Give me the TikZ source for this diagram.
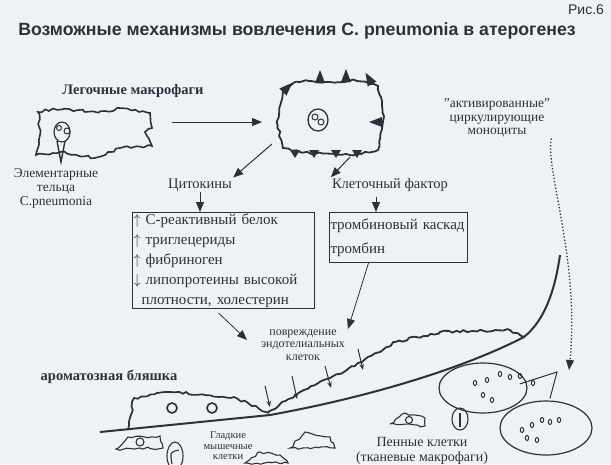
\documentclass[tikz,border=0pt]{standalone}
\usepackage{fontspec}
\setmainfont{Liberation Serif}
\newfontfamily\ttl{Liberation Sans}
\usetikzlibrary{arrows.meta,decorations.pathmorphing,calc,shapes.geometric}
\definecolor{bg}{HTML}{EEF2F6}
\definecolor{ink}{HTML}{2A3238}
\begin{document}
\begin{tikzpicture}[x=1pt,y=-1pt,
  ln/.style={draw=ink,line width=1.6pt},
  arr/.style={ink,line width=1pt,-{Triangle[length=10pt,width=8pt]}},
  sarr/.style={ink,line width=1pt,-{Stealth[length=6pt]}},
  wav/.style={ln,decorate,decoration={random steps,segment length=4pt,amplitude=1.3pt}},
  lbl/.style={text=ink,font=\fontsize{14.5}{15}\selectfont,align=center,inner sep=1pt},
  sm/.style={text=ink,font=\fontsize{12}{12.5}\selectfont,align=center,inner sep=1pt},
  box/.style={draw=ink,line width=1pt,fill=bg,inner sep=3pt}]
\fill[bg] (0,0) rectangle (611,464);
\useasboundingbox (0,0) rectangle (611,464);
\node[text=ink,font=\ttl\fontsize{14}{14}\selectfont] (fig) at (586,10) {Рис.6};
\node[text=ink,font=\ttl\bfseries\fontsize{17.7}{18}\selectfont] (title) at (297,31) {Возможные механизмы вовлечения C. pneumonia в атерогенез};
\node[lbl,font=\bfseries\fontsize{14.5}{15}\selectfont] (lm) at (133,91) {Легочные макрофаги};
% left cell
\draw[wav] (38,112) .. controls (70,104) and (95,118) .. (120,108) -- (150,113) -- (152,128) -- (145,132) -- (152,146) -- (120,148) -- (95,158) -- (60,152) -- (36,155) -- (40,135) -- cycle;
\draw[ln,line width=1.2pt] (62,132) circle (8pt and 10pt);
\draw[ln,line width=1pt] (59,128) circle (2.5pt) (67,131) circle (3pt);
\coordinate (ebtip) at (61,162);
\draw[ln,line width=1.4pt] (57,141) -- (ebtip) -- (65,141);
\node[lbl,font=\fontsize{13.5}{14}\selectfont] (eb) at (56,188) {Элементарные\\тельца\\C.pneumonia};
% activated macrophage
\draw[wav,line width=1.8pt] (283,90) .. controls (300,80) .. (330,82) .. controls (360,80) .. (378,86) .. controls (385,110) .. (378,150) .. controls (350,156) .. (300,152) -- (283,148) .. controls (276,120) .. cycle;
\foreach \x/\y/\a in {283/92/135,320/83/90,346/82/90,372/84/60,382/122/0}
  \fill[ink] ($(\x,\y)+(\a-90:5)$) -- ($(\x,\y)+(\a:-13)$) -- ($(\x,\y)+(\a+90:5)$) -- cycle;
\foreach \x in {290,309,331,352} \fill[ink] (\x,150) -- ++(5,8) -- ++(5,-8) -- cycle;
\draw[ln,line width=1.3pt] (318,120) circle (10pt and 11pt);
\draw[ln,line width=1pt] (315,117) circle (3pt) (321,122) circle (3pt);
\coordinate (a1) at (172,122); \coordinate (a2) at (262,122);
\draw[arr] (a1) -- (a2);
\node[lbl,font=\fontsize{13.5}{13.5}\selectfont] (mono) at (497,118) {"активированные"\\циркулирующие\\моноциты};
\node[lbl] (cyt) at (200,185) {Цитокины};
\node[lbl] (cf) at (390,185) {Клеточный фактор};
\coordinate (am1) at (272,144); \coordinate (am2) at (350,157);
\draw[arr] (am1) -- (cyt.north east);
\draw[arr] (am2) -- (cf.north west);
% boxes
\node[box,anchor=north west,text width=180pt,lbl,font=\fontsize{15}{20}\selectfont,align=left,minimum height=88pt] (b1) at (132,212) {%
$\uparrow$ С-реактивный белок\\$\uparrow$ триглецериды\\$\uparrow$ фибриноген\\$\downarrow$ липопротеины высокой\\\hspace*{8pt}плотности, холестерин};
\node[box,anchor=north west,text width=136pt,lbl,font=\fontsize{15}{24}\selectfont,align=left,minimum height=50pt] (b2) at (329,212) {тромбиновый каскад\\тромбин};
\coordinate (cfs) at (376,197);
\draw[arr,line width=0.8pt] (cyt.south) -- (cyt.south|-b1.north);
\draw[arr,line width=0.8pt] (cfs) -- (cfs|-b2.north);
% vessel
\coordinate (v0) at (100,432); \coordinate (v1) at (524,337); \coordinate (vtop) at (560,255);
\draw[ln,line width=2pt] (v0) -- (270,415) .. controls (380,395) and (470,365) .. (v1) .. controls (545,320) and (555,290) .. (vtop);
\draw[wav,line width=1.8pt] (268,412) -- (300,392) -- (330,378) -- (362,362) -- (395,342) -- (440,332) -- (510,330) -- (v1);
\draw[wav,line width=1.7pt] (128,430) -- (134,398) -- (170,392) -- (234,397) -- (269,413);
\draw[ln] (172,408) circle (5pt) (212,408) circle (5pt);
\node[lbl,font=\bfseries\fontsize{14.5}{15}\selectfont] (ab) at (109,377) {ароматозная\ бляшка};
\node[sm] (pe) at (303,345) {повреждение\\эндотелиальных\\клеток};
\coordinate (bb) at ($(b1.south)+(-5,4)$);
\coordinate (bc) at ($(b2.south)+(-30,0)$);
\draw[arr,line width=0.8pt] (bb) -- (247,340);
\draw[arr,line width=0.8pt] (bc) -- (348,329);
\foreach \xa/\ya/\xb/\yb in {265/386/270/407,292/376/297/399,325/366/331/388,358/349/363/370}
  \draw[sarr] (\xa,\ya) -- (\xb,\yb);
% smooth muscle cells
\draw[wav,line width=1.1pt] (116,449) -- (128,437) -- (160,436) -- (163,448) -- cycle;
\draw[ln,line width=1.1pt] (140,442) circle (4pt);
\draw[ln,line width=1.1pt] (175,456) ellipse (8pt and 14pt);
\draw[ln,line width=1.1pt] (172,464) .. controls (170,452) .. (179,450);
\draw[wav,line width=1.1pt] (290,448) -- (305,432) -- (330,437) -- (335,448) -- cycle;
\draw[wav,line width=1.1pt] (245,463) -- (260,452) -- (280,455) -- (288,463) -- cycle;
\node[sm,font=\fontsize{10.5}{10.5}\selectfont] (gm) at (228,446) {Гладкие\\мышечные\\клетки};
% foam cells
\draw[wav,line width=1.1pt] (390,424) -- (405,413) -- (425,418) -- (425,426) -- cycle;
\draw[ln,line width=1.1pt] (409,420) circle (3.5pt);
\draw[ln,line width=1.1pt] (460,419) ellipse (8pt and 11pt);
\draw[ln,line width=1.1pt] (460,427) -- (460,413);
\node[lbl,font=\fontsize{14}{15}\selectfont] (pk) at (422,451) {Пенные клетки\\(тканевые макрофаги)};
\node[draw=ink,line width=1.2pt,ellipse,minimum width=88pt,minimum height=50pt] (e1) at (483,388) {};
\node[draw=ink,line width=1.2pt,ellipse,minimum width=92pt,minimum height=54pt] (e2) at (546,428) {};
\foreach \x/\y in {475/383,487/380,500/374,510/377,520/376,533/383,483/395,492/400}
  \draw[ink,line width=1pt] (\x,\y) ellipse (1.7pt and 2.5pt);
\foreach \x/\y in {522/430,532/425,542/420,550/422,559/420,527/438,537/440}
  \draw[ink,line width=1pt] (\x,\y) ellipse (1.7pt and 2.5pt);
\coordinate (ep) at (557,372);
\coordinate (e1p) at ($(e1.east)+(-8,-4)$);
\coordinate (e2p) at ($(e2.north)+(4,-2)$);
\draw[ink,line width=1pt] (e1p) -- (ep) -- (e2p);
\draw[ink,dotted,line width=1.3pt,-{Triangle[length=10pt,width=8pt]}] (mono.south east) .. controls (545,170) and (580,260) .. (569,370);
\end{tikzpicture}
\end{document}
